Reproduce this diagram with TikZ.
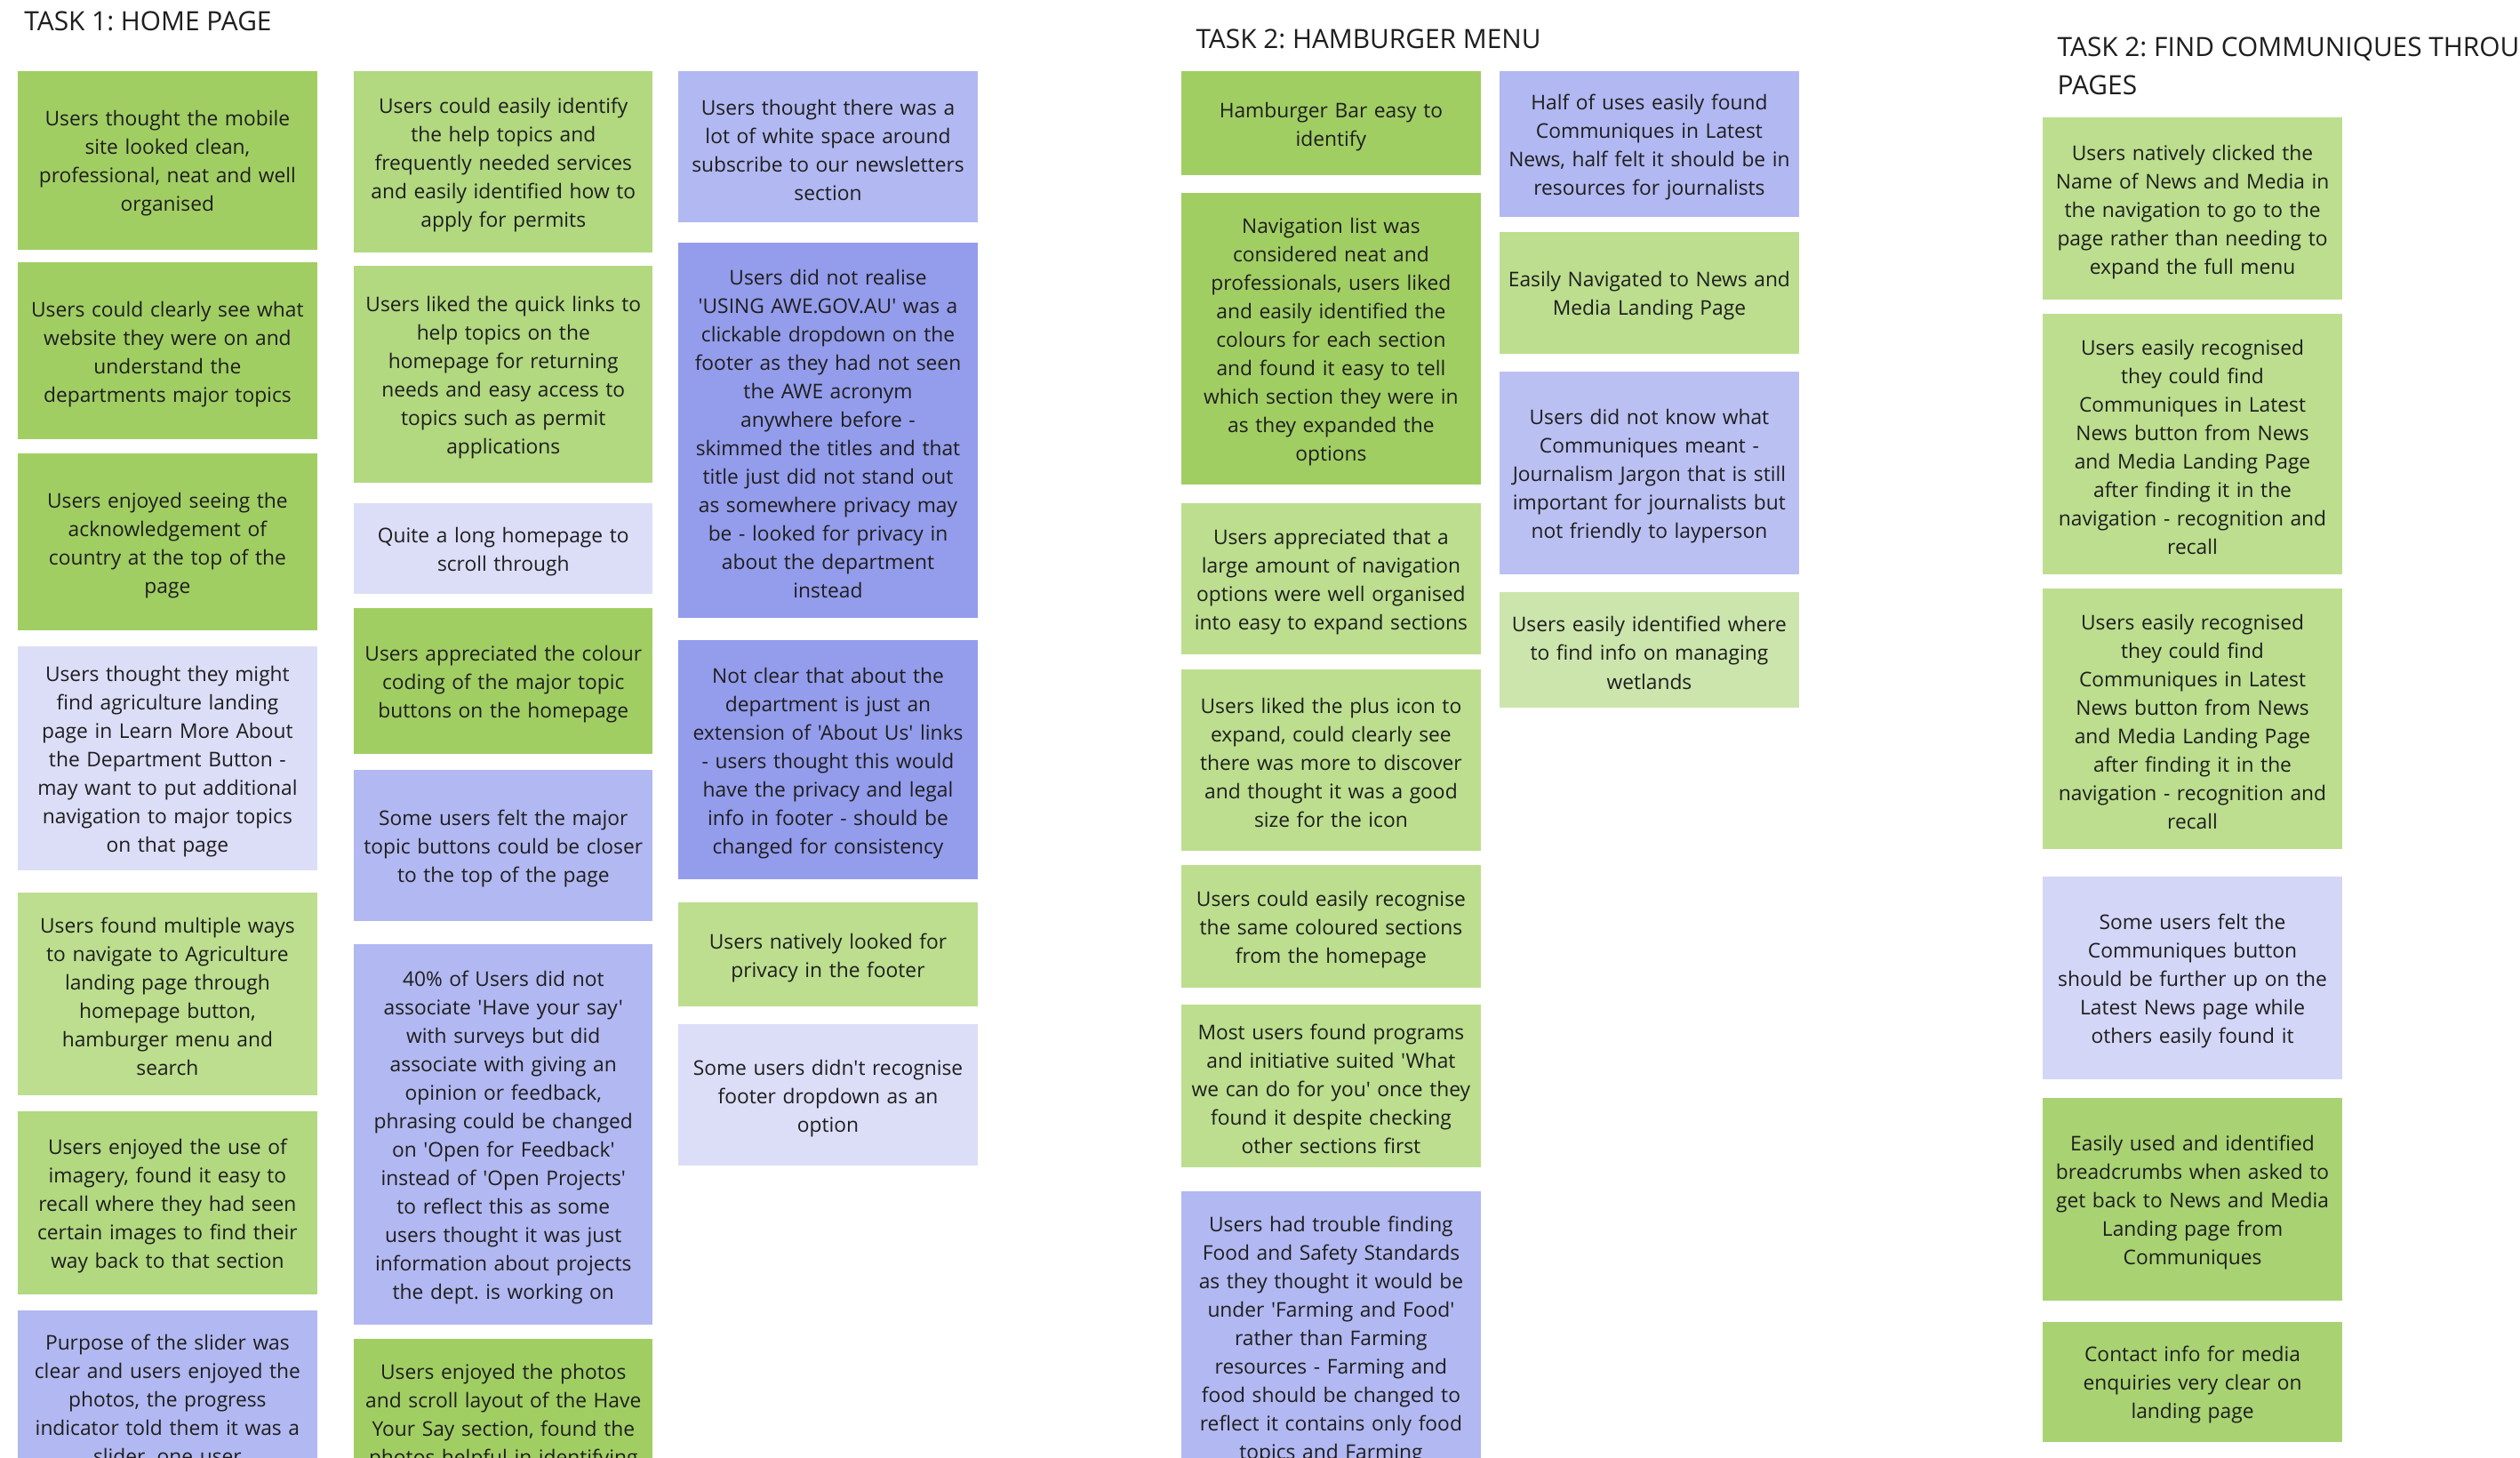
\documentclass[tikz,border=0pt]{standalone}
\usepackage{fontspec}
\setmainfont{Open Sans}[Ligatures=TeXOff]
\usepackage{xcolor}
\definecolor{greenA}{RGB}{161,206,99}
\definecolor{greenB}{RGB}{178,216,128}
\definecolor{greenC}{RGB}{188,222,142}
\definecolor{greenD}{RGB}{204,229,172}
\definecolor{greenE}{RGB}{169,210,114}
\definecolor{blueA}{RGB}{178,184,241}
\definecolor{blueB}{RGB}{148,156,236}
\definecolor{blueC}{RGB}{220,222,248}
\definecolor{blueD}{RGB}{212,214,247}
\definecolor{blueE}{RGB}{187,192,243}
\definecolor{inktext}{RGB}{30,30,30}
\frenchspacing

\begin{document}
\begin{tikzpicture}[x=1pt,y=-1pt,
  note/.style={rectangle, anchor=north west, minimum width=186, text width=184,
    inner sep=1, align=center, text=inktext, font=\fontsize{12.6}{17.7}\selectfont,
    execute at begin node={\rule{0pt}{13.6pt}}},
  tasktitle/.style={anchor=north west, inner sep=0, align=left, text=inktext,
    font=\fontsize{16.5}{24}\selectfont}]
  \useasboundingbox[fill=white] (0,0) rectangle (1568,907);
%Task 1: home page
  \node[tasktitle] (t1) at (15,7) {TASK 1: HOME PAGE};
  \node[note, fill=greenA, minimum height=111] (home1) at (11,44) {Users thought the mobile\\site looked clean,\\professional, neat and well\\organised};
  \node[note, fill=greenA, minimum height=110] (home2) at (11,163) {Users could clearly see what\\website they were on and\\understand the\\departments major topics};
  \node[note, fill=greenA, minimum height=110] (home3) at (11,282) {Users enjoyed seeing the\\acknowledgement of\\country at the top of the\\page};
  \node[note, fill=blueC, minimum height=139] (home4) at (11,402) {Users thought they might\\find agriculture landing\\page in Learn More About\\the Department Button -\\may want to put additional\\navigation to major topics\\on that page};
  \node[note, fill=greenC, minimum height=126] (home5) at (11,555) {Users found multiple ways\\to navigate to Agriculture\\landing page through\\homepage button,\\hamburger menu and\\search};
  \node[note, fill=greenB, minimum height=114] (home6) at (11,691) {Users enjoyed the use of\\imagery, found it easy to\\recall where they had seen\\certain images to find their\\way back to that section};
  \node[note, fill=blueA, minimum height=108] (home7) at (11,815) {Purpose of the slider was\\clear and users enjoyed the\\photos, the progress\\indicator told them it was a\\slider, one user};
%second column
  \node[note, fill=greenB, minimum height=113] (home8) at (220,44) {Users could easily identify\\the help topics and\\frequently needed services\\and easily identified how to\\apply for permits};
  \node[note, fill=greenB, minimum height=135] (home9) at (220,165) {Users liked the quick links to\\help topics on the\\homepage for returning\\needs and easy access to\\topics such as permit\\applications};
  \node[note, fill=blueC, minimum height=56] (home10) at (220,313) {Quite a long homepage to\\scroll through};
  \node[note, fill=greenA, minimum height=91] (home11) at (220,378) {Users appreciated the colour\\coding of the major topic\\buttons on the homepage};
  \node[note, fill=blueA, minimum height=94] (home12) at (220,479) {Some users felt the major\\topic buttons could be closer\\to the top of the page};
  \node[note, fill=blueA, minimum height=237] (home13) at (220,587) {40\% of Users did not\\associate 'Have your say'\\with surveys but did\\associate with giving an\\opinion or feedback,\\phrasing could be changed\\on 'Open for Feedback'\\instead of 'Open Projects'\\to reflect this as some\\users thought it was just\\information about projects\\the dept. is working on};
  \node[note, fill=greenA, minimum height=92] (home14) at (220,833) {Users enjoyed the photos\\and scroll layout of the Have\\Your Say section, found the\\photos helpful in identifying};
%third column
  \node[note, fill=blueA, minimum height=94] (home15) at (422,44) {Users thought there was a\\lot of white space around\\subscribe to our newsletters\\section};
  \node[note, fill=blueB, minimum height=233] (home16) at (422,151) {Users did not realise\\'USING AWE.GOV.AU' was a\\clickable dropdown on the\\footer as they had not seen\\the AWE acronym\\anywhere before -\\skimmed the titles and that\\title just did not stand out\\as somewhere privacy may\\be - looked for privacy in\\about the department\\instead};
  \node[note, fill=blueB, minimum height=149] (home17) at (422,398) {Not clear that about the\\department is just an\\extension of 'About Us' links\\- users thought this would\\have the privacy and legal\\info in footer - should be\\changed for consistency};
  \node[note, fill=greenC, minimum height=65] (home18) at (422,561) {Users natively looked for\\privacy in the footer};
  \node[note, fill=blueC, minimum height=88] (home19) at (422,637) {Some users didn't recognise\\footer dropdown as an\\option};
%Task 2: hamburger menu
  \node[tasktitle] (t2) at (744,18) {TASK 2: HAMBURGER MENU};
  \node[note, fill=greenA, minimum height=65] (menu1) at (735,44) {Hamburger Bar easy to\\identify};
  \node[note, fill=greenA, minimum height=181] (menu2) at (735,120) {Navigation list was\\considered neat and\\professionals, users liked\\and easily identified the\\colours for each section\\and found it easy to tell\\which section they were in\\as they expanded the\\options};
  \node[note, fill=greenC, minimum height=94] (menu3) at (735,313) {Users appreciated that a\\large amount of navigation\\options were well organised\\into easy to expand sections};
  \node[note, fill=greenC, minimum height=113] (menu4) at (735,416) {Users liked the plus icon to\\expand, could clearly see\\there was more to discover\\and thought it was a good\\size for the icon};
  \node[note, fill=greenC, minimum height=76] (menu5) at (735,538) {Users could easily recognise\\the same coloured sections\\from the homepage};
  \node[note, fill=greenC, minimum height=101] (menu6) at (735,625) {Most users found programs\\and initiative suited 'What\\we can do for you' once they\\found it despite checking\\other sections first};
  \node[note, fill=blueA, minimum height=181] (menu7) at (735,741) {Users had trouble finding\\Food and Safety Standards\\as they thought it would be\\under 'Farming and Food'\\rather than Farming\\resources - Farming and\\food should be changed to\\reflect it contains only food\\topics and Farming};
%second column
  \node[note, fill=blueA, minimum height=91] (menu8) at (933,44) {Half of uses easily found\\Communiques in Latest\\News, half felt it should be in\\resources for journalists};
  \node[note, fill=greenC, minimum height=76] (menu9) at (933,144) {Easily Navigated to News and\\Media Landing Page};
  \node[note, fill=blueE, minimum height=126] (menu10) at (933,231) {Users did not know what\\Communiques meant -\\Journalism Jargon that is still\\important for journalists but\\not friendly to layperson};
  \node[note, fill=greenD, minimum height=72] (menu11) at (933,368) {Users easily identified where\\to find info on managing\\wetlands};
%Task 2: communiques
  \node[tasktitle] (t3) at (1280,23) {TASK 2: FIND COMMUNIQUES THROUGH\\PAGES};
  \node[note, fill=greenC, minimum height=113] (comm1) at (1271,73) {Users natively clicked the\\Name of News and Media in\\the navigation to go to the\\page rather than needing to\\expand the full menu};
  \node[note, fill=greenC, minimum height=162] (comm2) at (1271,195) {Users easily recognised\\they could find\\Communiques in Latest\\News button from News\\and Media Landing Page\\after finding it in the\\navigation - recognition and\\recall};
  \node[note, fill=greenC, minimum height=162] (comm3) at (1271,366) {Users easily recognised\\they could find\\Communiques in Latest\\News button from News\\and Media Landing Page\\after finding it in the\\navigation - recognition and\\recall};
  \node[note, fill=blueD, minimum height=126] (comm4) at (1271,545) {Some users felt the\\Communiques button\\should be further up on the\\Latest News page while\\others easily found it};
  \node[note, fill=greenE, minimum height=126] (comm5) at (1271,683) {Easily used and identified\\breadcrumbs when asked to\\get back to News and Media\\Landing page from\\Communiques};
  \node[note, fill=greenE, minimum height=75] (comm6) at (1271,822) {Contact info for media\\enquiries very clear on\\landing page};
\end{tikzpicture}
\end{document}
